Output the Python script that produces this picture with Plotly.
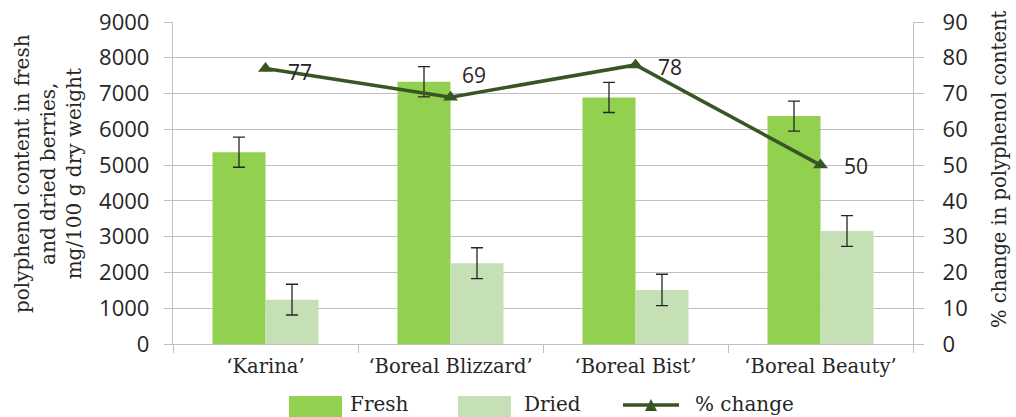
import plotly.graph_objects as go

categories = ["\u2018Karina\u2019", "\u2018Boreal Blizzard\u2019", "\u2018Boreal Bist\u2019", "\u2018Boreal Beauty\u2019"]
fresh = [5360, 7330, 6890, 6370]
fresh_err = [420, 420, 420, 420]
dried = [1240, 2260, 1510, 3160]
dried_err = [430, 430, 440, 430]
pct_change = [77, 69, 78, 50]
left_ticks = [0, 1000, 2000, 3000, 4000, 5000, 6000, 7000, 8000, 9000]
right_ticks = [0, 10, 20, 30, 40, 50, 60, 70, 80, 90]
legend_names = ["Fresh", "Dried", "% change"]

SERIF = "DejaVu Serif"
SANS = "Open Sans"
TXT = "#262626"
GRID = "#bfbfbf"
C_FRESH = "#92d050"
C_DRIED = "#c5e0b4"
C_LINE = "#375623"

W, H = 1016, 417
ML, MR, MT, MB = 173, 103, 22, 73
PW, PH = W - ML - MR, H - MT - MB


def px(x):
    return (x - ML) / PW


def py(y):
    return (H - MB - y) / PH


fig = go.Figure()
fig.add_trace(go.Bar(
    x=categories, y=fresh, name=legend_names[0], marker=dict(color=C_FRESH, line=dict(width=0)),
    error_y=dict(type="data", array=fresh_err, color="#262626", thickness=1.3, width=6),
))
fig.add_trace(go.Bar(
    x=categories, y=dried, name=legend_names[1], marker=dict(color=C_DRIED, line=dict(width=0)),
    error_y=dict(type="data", array=dried_err, color="#262626", thickness=1.3, width=6),
))
fig.add_trace(go.Scatter(
    x=categories, y=pct_change, name=legend_names[2], yaxis="y2", mode="lines+markers",
    line=dict(color=C_LINE, width=3.5),
    marker=dict(symbol="triangle-up", size=13, color=C_LINE),
))

# data labels for the line
label_shift = [(34, -3), (23, 22), (34, -2), (35, -1)]
for c, v, (dx, dy) in zip(categories, pct_change, label_shift):
    fig.add_annotation(x=c, y=v, yref="y2", text=str(v), showarrow=False,
                       xshift=dx, yshift=dy, font=dict(family=SANS, size=21, color=TXT))

# axis titles
fig.add_annotation(xref="paper", yref="paper", x=px(48), y=py(174), textangle=-90,
                   xanchor="center", yanchor="middle",
                   text="polyphenol content in fresh<br>and dried berries,<br>mg/100 g dry weight",
                   showarrow=False, font=dict(family=SERIF, size=20, color=TXT), align="center")
fig.add_annotation(xref="paper", yref="paper", x=px(999), y=py(169), textangle=-90,
                   xanchor="center", yanchor="middle",
                   text="% change in polyphenol content",
                   showarrow=False, font=dict(family=SERIF, size=19.5, color=TXT))

# custom legend (Excel style wide swatches)
shapes = [
    dict(type="rect", xref="paper", yref="paper", x0=px(289), x1=px(342), y0=py(417), y1=py(396),
         fillcolor=C_FRESH, line=dict(width=0), layer="above"),
    dict(type="rect", xref="paper", yref="paper", x0=px(458), x1=px(511), y0=py(417), y1=py(396),
         fillcolor=C_DRIED, line=dict(width=0), layer="above"),
    dict(type="line", xref="paper", yref="paper", x0=px(623), x1=px(679), y0=py(405), y1=py(405),
         line=dict(color=C_LINE, width=3.5), layer="above"),
    dict(type="path", xref="paper", yref="paper",
         path=f"M {px(645)} {py(411)} L {px(657)} {py(411)} L {px(651)} {py(399)} Z",
         fillcolor=C_LINE, line=dict(width=0), layer="above"),
]
for name, xl in zip(legend_names, [348, 522, 693]):
    fig.add_annotation(xref="paper", yref="paper", x=px(xl), y=py(404), xanchor="left", yanchor="middle",
                       text=name, showarrow=False, font=dict(family=SERIF, size=20, color=TXT))

fig.update_layout(
    width=W, height=H,
    margin=dict(l=ML, r=MR, t=MT, b=MB),
    paper_bgcolor="white", plot_bgcolor="white",
    barmode="group", bargap=0.427, bargroupgap=0,
    showlegend=False,
    shapes=shapes,
    xaxis=dict(
        type="category", tickson="boundaries", ticks="outside", ticklen=8, tickcolor=GRID,
        showline=True, linecolor=GRID, linewidth=1.3, showgrid=False, ticklabelstandoff=4,
        tickfont=dict(family=SERIF, size=19.5, color=TXT), automargin=False,
    ),
    yaxis=dict(
        range=[0, 9000], tickvals=left_ticks, ticks="outside", ticklen=8, tickcolor=GRID,
        showline=True, linecolor=GRID, linewidth=1.3, showgrid=True, gridcolor=GRID, gridwidth=1.3,
        tickfont=dict(family=SANS, size=22, color=TXT), zeroline=False, ticklabelstandoff=10,
        automargin=False,
    ),
    yaxis2=dict(
        range=[0, 90], tickvals=right_ticks, overlaying="y", side="right", ticks="outside", ticklen=10,
        tickcolor=GRID, showline=True, linecolor=GRID, linewidth=1.3, showgrid=False,
        tickfont=dict(family=SANS, size=22, color=TXT), zeroline=False, ticklabelstandoff=14,
        automargin=False,
    ),
)

fig.write_html("out.html")
